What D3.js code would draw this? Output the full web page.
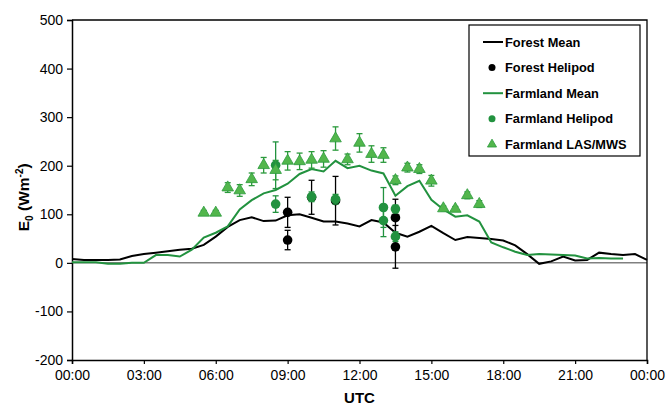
<!DOCTYPE html>
<html>
<head>
<meta charset="utf-8">
<script src="https://cdn.jsdelivr.net/npm/d3@7"></script>
<style>
  body { margin:0; background:#fff; }
  text { font-family: "Liberation Sans", Arial, sans-serif; }
</style>
</head>
<body>
<script>
// half-hourly times in hours UTC
var meanTimes = [0,0.5,1,1.5,2,2.5,3,3.5,4,4.5,5,5.5,6,6.5,7,7.5,8,8.5,9,9.5,10,10.5,11,11.5,
                 12,12.5,13,13.5,14,14.5,15,15.5,16,16.5,17,17.5,18,18.5,19,19.5,20,20.5,21,21.5,22,22.5,23,23.5,24];
var forestMean = [8,6,6,6,7,14,18,21,24,27,29,37,54,74,88,94,86,87,98,100,93,85,85,81,
                  75,88,83,62,54,64,76,61,47,53,51,49,46,36,18,-2,3,13,5,6,21,18,16,18,6];
var farmMean = [1,1,1,-2,-2,0,0,16,16,13,27,52,62,75,110,129,143,150,163,183,193,188,210,195,
                200,190,184,138,158,169,130,110,95,98,85,42,32,23,16,18,17,16,15,9,10,9,9];

var forestHeliTimes = [9,9,10,11,13.5,13.5];
var forestHeliVals  = [104,47,135,128,93,33];
var forestHeliErr   = [31,20,35,50,38,44];

var farmHeliTimes = [8.5,8.5,10,11,13,13,13.5,13.5];
var farmHeliVals  = [201,121,136,131,114,87,111,54];
var farmHeliErr   = [48,17,10,10,41,33,8,10];

var lasTimes = [5.5,6,6.5,7,7.5,8,8.5,9,9.5,10,10.5,11,11.5,12,12.5,13,13.5,14,14.5,15,15.5,16,16.5,17];
var lasVals  = [103,103,155,149,172,201,191,210,209,212,214,256,213,247,224,222,170,196,193,169,112,111,139,121];
var lasErr   = [5,5,10,12,13,16,20,19,17,17,17,24,11,19,17,15,9,9,9,11,5,5,7,7];

var xTicks = [0,3,6,9,12,15,18,21,24];
var xTickLabels = ["00:00","03:00","06:00","09:00","12:00","15:00","18:00","21:00","00:00"];
var yTicks = [-200,-100,0,100,200,300,400,500];

var legendNames = ["Forest Mean","Forest Helipod","Farmland Mean","Farmland Helipod","Farmland LAS/MWS"];

var W=670, H=409, m={l:72, t:20, r:23, b:49};
var green="#22923f", triFill="#52b64c", triStroke="#2b9a3c";

var svg = d3.select("body").append("svg").attr("width",W).attr("height",H);
var x = d3.scaleLinear().domain([0,24]).range([m.l, W-m.r]);
var y = d3.scaleLinear().domain([-200,500]).range([H-m.b, m.t]);

// zero line
svg.append("line").attr("x1",x(0)).attr("x2",x(24)).attr("y1",y(0)).attr("y2",y(0))
   .attr("stroke","#808080").attr("stroke-width",1.5);

// axes
var xAxis = d3.axisBottom(x).tickValues(xTicks).tickSize(4).tickPadding(6)
    .tickFormat(function(d,i){ return xTickLabels[i]; });
var gx = svg.append("g").attr("transform","translate(0,"+y(-200)+")").call(xAxis);
var yAxis = d3.axisLeft(y).tickValues(yTicks).tickSize(5).tickPadding(4)
    .tickFormat(function(d){ return String(d); });
var gy = svg.append("g").attr("transform","translate("+x(0)+",0)").call(yAxis);
[gx,gy].forEach(function(g){
  g.select(".domain").attr("stroke","#000").attr("stroke-width",1.5);
  g.selectAll(".tick line").attr("stroke","#000").attr("stroke-width",1.2);
  g.selectAll(".tick text").attr("font-size",14).attr("fill","#000")
   .attr("font-family","Liberation Sans, Arial, sans-serif");
});
// top & right frame
svg.append("path").attr("d","M"+x(0)+","+y(500)+"H"+x(24)+"V"+y(-200))
   .attr("fill","none").attr("stroke","#000").attr("stroke-width",1.3);

// axis titles
svg.append("text").attr("x",(x(0)+x(24))/2).attr("y",403).attr("text-anchor","middle")
   .attr("font-size",15).attr("font-weight","bold").text("UTC");
var yt = svg.append("text").attr("transform","translate(29,"+y(135)+") rotate(-90)")
   .attr("text-anchor","middle").attr("font-size",15.5).attr("font-weight","bold");
yt.append("tspan").text("E");
yt.append("tspan").attr("font-size",10).attr("dy",4).text("0");
yt.append("tspan").attr("dy",-4).text(" (Wm");
yt.append("tspan").attr("font-size",10).attr("dy",-6).text("-2");
yt.append("tspan").attr("dy",6).text(")");

var line = d3.line().x(function(d){ return x(d[0]); }).y(function(d){ return y(d[1]); });

function errBars(times, vals, errs, col){
  var g = svg.append("g").attr("stroke",col).attr("stroke-width",1.3);
  times.forEach(function(t,i){
    var cx=x(t), lo=y(vals[i]-errs[i]), hi=y(vals[i]+errs[i]);
    g.append("line").attr("x1",cx).attr("x2",cx).attr("y1",lo).attr("y2",hi);
    g.append("line").attr("x1",cx-3).attr("x2",cx+3).attr("y1",lo).attr("y2",lo);
    g.append("line").attr("x1",cx-3).attr("x2",cx+3).attr("y1",hi).attr("y2",hi);
  });
}

// forest mean
svg.append("path").datum(d3.zip(meanTimes, forestMean)).attr("d",line)
   .attr("fill","none").attr("stroke","#000").attr("stroke-width",2);
// forest helipod
errBars(forestHeliTimes, forestHeliVals, forestHeliErr, "#000");
svg.append("g").selectAll("circle").data(d3.zip(forestHeliTimes, forestHeliVals)).enter()
   .append("circle").attr("cx",function(d){return x(d[0]);}).attr("cy",function(d){return y(d[1]);})
   .attr("r",4.8).attr("fill","#000");
// farmland mean
svg.append("path").datum(d3.zip(meanTimes.slice(0,farmMean.length), farmMean)).attr("d",line)
   .attr("fill","none").attr("stroke",green).attr("stroke-width",2);
// farmland helipod
errBars(farmHeliTimes, farmHeliVals, farmHeliErr, green);
svg.append("g").selectAll("circle").data(d3.zip(farmHeliTimes, farmHeliVals)).enter()
   .append("circle").attr("cx",function(d){return x(d[0]);}).attr("cy",function(d){return y(d[1]);})
   .attr("r",4.8).attr("fill",green);
// farmland LAS/MWS
errBars(lasTimes, lasVals, lasErr, triStroke);
var tri = d3.symbol().type(d3.symbolTriangle).size(58);
svg.append("g").selectAll("path").data(d3.zip(lasTimes, lasVals)).enter()
   .append("path").attr("d",tri)
   .attr("transform",function(d){ return "translate("+x(d[0])+","+y(d[1])+")"; })
   .attr("fill",triFill).attr("stroke",triStroke).attr("stroke-width",0.8);

// legend
var lg = svg.append("g").attr("transform","translate(469,25)");
lg.append("rect").attr("width",171).attr("height",131).attr("fill","#fff")
  .attr("stroke","#000").attr("stroke-width",1.2);
legendNames.forEach(function(name,i){
  var yy = 17 + i*25.6, row = lg.append("g").attr("transform","translate(0,"+yy+")");
  if(i==0 || i==2){
    row.append("line").attr("x1",14).attr("x2",34).attr("stroke",i==0?"#000":green).attr("stroke-width",2);
  } else if(i==1 || i==3){
    row.append("circle").attr("cx",23).attr("r",3.5).attr("fill",i==1?"#000":green);
  } else {
    row.append("path").attr("d",d3.symbol().type(d3.symbolTriangle).size(36)).attr("transform","translate(23,0)")
       .attr("fill",triFill).attr("stroke",triStroke).attr("stroke-width",0.8);
  }
  row.append("text").attr("x",36).attr("y",4.5).attr("font-size",12.8).attr("font-weight","bold").text(name);
});
</script>
</body>
</html>
